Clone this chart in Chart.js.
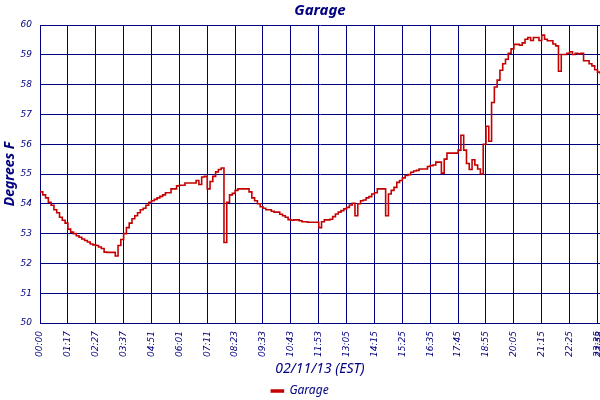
<!DOCTYPE html>
<html>
<head>
<meta charset="utf-8">
<title>Garage</title>
<script src="https://cdn.jsdelivr.net/npm/chart.js@4.4.1/dist/chart.umd.min.js"></script>
<style>
  html, body { margin: 0; padding: 0; background: #fff; }
</style>
</head>
<body>
<canvas id="garageChart" width="600" height="400"></canvas>
<script>
  // temperature readings (deg F), one per sample
  const garageTemps = [
    54.4, 54.3, 54.2, 54.05, 53.95, 53.8, 53.7, 53.55, 53.45, 53.35,
    53.15, 53.05, 53.0, 52.93, 52.88, 52.82, 52.77, 52.72, 52.65, 52.62,
    52.6, 52.55, 52.5, 52.38, 52.37, 52.37, 52.37, 52.25, 52.6, 52.8,
    53.0, 53.2, 53.35, 53.5, 53.6, 53.7, 53.8, 53.85, 53.95, 54.05,
    54.1, 54.15, 54.2, 54.25, 54.3, 54.37, 54.37, 54.5, 54.5, 54.6,
    54.62, 54.62, 54.7, 54.7, 54.7, 54.7, 54.78, 54.65, 54.9, 54.92,
    54.5, 54.75, 54.92, 55.07, 55.15, 55.2, 52.7, 54.05, 54.3, 54.35,
    54.45, 54.5, 54.5, 54.5, 54.5, 54.4, 54.2, 54.1, 54.0, 53.9,
    53.85, 53.8, 53.8, 53.75, 53.72, 53.72, 53.65, 53.6, 53.55, 53.47,
    53.45, 53.46, 53.46, 53.43, 53.4, 53.4, 53.38, 53.38, 53.38, 53.38,
    53.2, 53.4, 53.46, 53.46, 53.48, 53.57, 53.66, 53.72, 53.77, 53.83,
    53.88, 53.96, 54.02, 53.6, 54.0, 54.1, 54.13, 54.2, 54.24, 54.33,
    54.37, 54.5, 54.5, 54.5, 53.6, 54.33, 54.45, 54.55, 54.72, 54.78,
    54.87, 54.95, 54.98, 55.06, 55.1, 55.12, 55.17, 55.17, 55.17, 55.25,
    55.28, 55.3, 55.4, 55.4, 55.03, 55.5, 55.7, 55.7, 55.7, 55.7,
    55.8, 56.3, 55.8, 55.35, 55.15, 55.48, 55.3, 55.17, 55.0, 56.0,
    56.6, 56.1, 57.4, 57.92, 58.15, 58.48, 58.7, 58.85, 59.05, 59.2,
    59.35, 59.35, 59.32, 59.4, 59.52, 59.58, 59.48, 59.58, 59.58, 59.48,
    59.66, 59.52, 59.47, 59.47, 59.36, 59.3, 58.45, 59.01, 59.01, 59.05,
    59.1, 59.01, 59.05, 59.03, 59.05, 58.8, 58.8, 58.7, 58.63, 58.5,
    58.42, 58.35
  ];

  // sample index of each labelled tick, and its label
  const tickIndex = [0, 10, 20, 30, 40, 50, 60, 70, 80, 90, 100,
                     110, 120, 130, 140, 150, 160, 170, 180, 190, 200, 200.9];
  const tickLabels = ['00:00', '01:17', '02:27', '03:37', '04:51', '06:01', '07:11',
                      '08:23', '09:33', '10:43', '11:53', '13:05', '14:15', '15:25',
                      '16:35', '17:45', '18:55', '20:05', '21:15', '22:25', '23:35', '23:58'];

  const navy = '#00007f';
  const red = '#c40000';

  const ctx = document.getElementById('garageChart').getContext('2d');

  new Chart(ctx, {
    type: 'line',
    data: {
      datasets: [{
        label: 'Garage',
        data: garageTemps.map((v, i) => ({ x: i, y: v })),
        borderColor: red,
        backgroundColor: red,
        borderWidth: 1.6,
        pointRadius: 0,
        stepped: true,
        fill: false
      }]
    },
    options: {
      responsive: false,
      animation: false,
      // legend sits lower than Chart.js would put it by default
      layout: { padding: { top: 0, left: 0, right: 0, bottom: -7 } },
      plugins: {
        title: {
          display: true,
          text: 'Garage',
          color: navy,
          fullSize: false,
          font: { family: 'Noto Sans', size: 15, style: 'italic', weight: 'bold' },
          padding: { top: 2, bottom: 5 }
        },
        legend: {
          position: 'bottom',
          labels: {
            color: navy,
            boxWidth: 12,
            boxHeight: 2,
            padding: 0,
            font: { family: 'Noto Sans', size: 12, style: 'italic' }
          }
        },
        tooltip: { enabled: false }
      },
      scales: {
        x: {
          type: 'linear',
          min: 0,
          max: 200.9,
          afterBuildTicks: s => { s.ticks = tickIndex.map(v => ({ value: v })); },
          afterFit: s => { s.height = 62; s.paddingLeft = 0; s.paddingRight = 0; },
          grid: { color: navy, lineWidth: 1, drawTicks: false },
          border: { color: navy },
          ticks: {
            autoSkip: false,
            maxRotation: 90,
            minRotation: 90,
            padding: 8,
            color: navy,
            font: { family: 'DejaVu Sans', size: 9, style: 'italic' },
            callback: (v, i) => tickLabels[i]
          },
          title: {
            display: true,
            text: '02/11/13 (EST)',
            color: navy,
            font: { family: 'Noto Sans', size: 14, style: 'italic' },
            padding: { top: 0, bottom: 8 }
          }
        },
        y: {
          min: 50,
          max: 60,
          afterFit: s => { s.width = 40; },
          grid: { color: navy, lineWidth: 1, drawTicks: false },
          border: { color: navy },
          ticks: {
            stepSize: 1,
            padding: 8,
            color: navy,
            font: { family: 'DejaVu Sans', size: 9, style: 'italic' }
          },
          title: {
            display: true,
            text: 'Degrees F',
            color: navy,
            font: { family: 'Noto Sans', size: 14, style: 'italic', weight: 'bold' },
            padding: { top: 2, bottom: 0 }
          }
        }
      }
    }
  });
</script>
</body>
</html>
